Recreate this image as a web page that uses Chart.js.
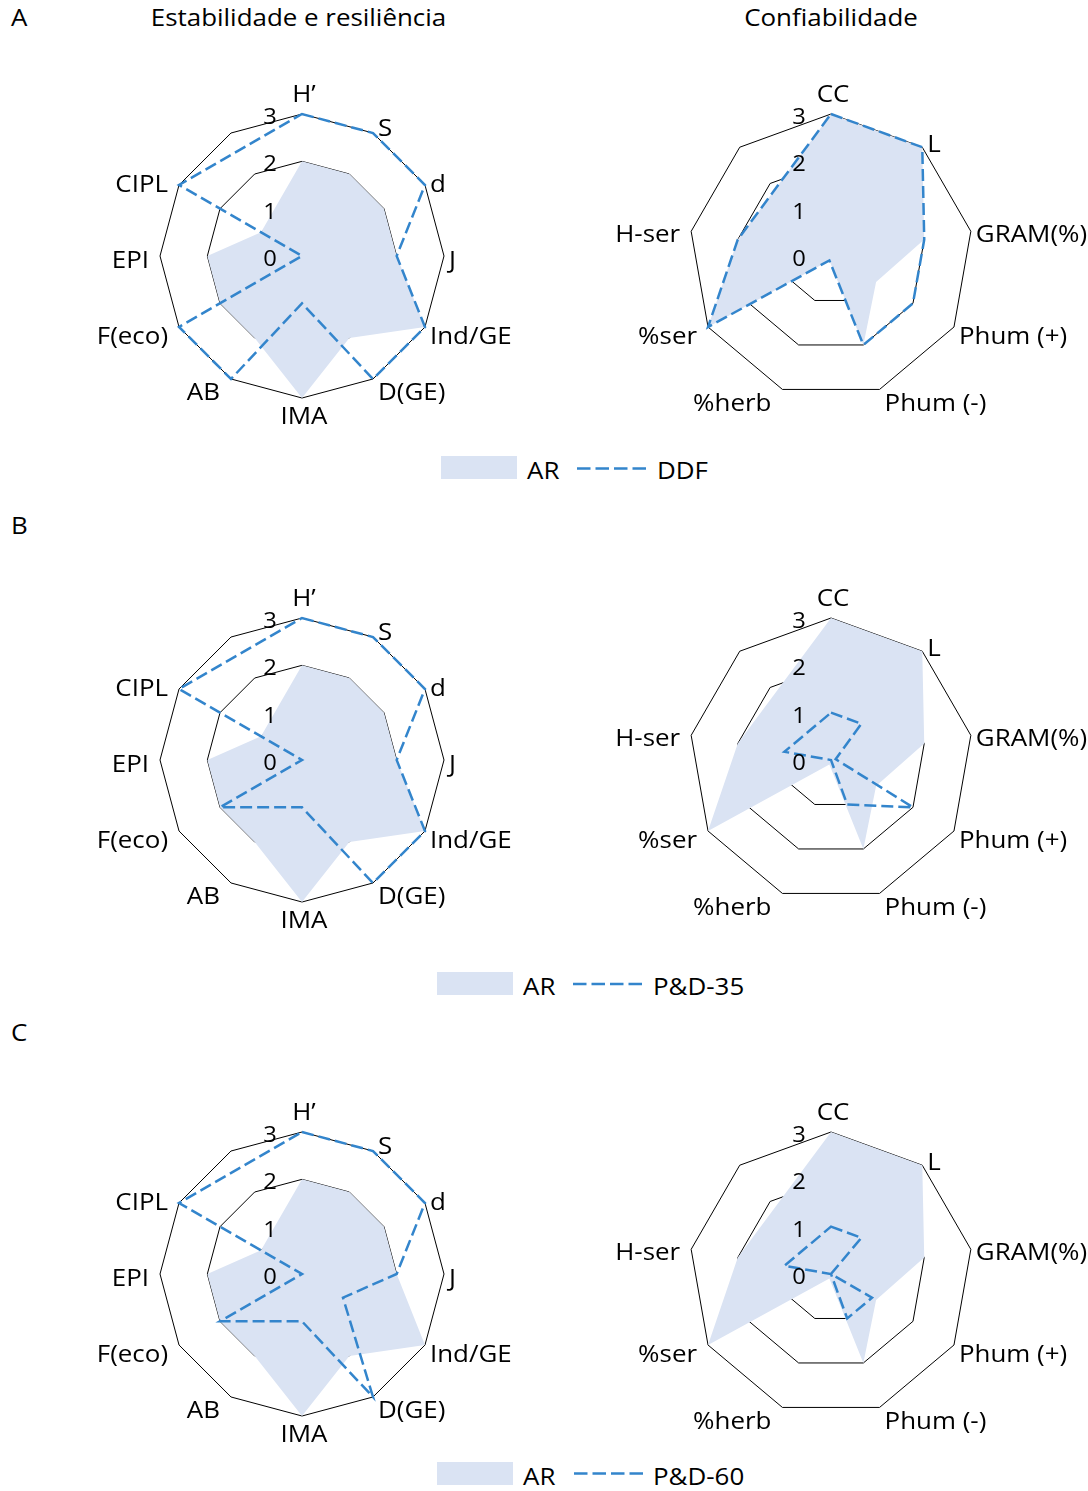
<!DOCTYPE html>
<html>
<head>
<meta charset="utf-8">
<script src="https://cdn.jsdelivr.net/npm/chart.js@4.4.1/dist/chart.umd.min.js"></script>
<style>
  body { margin: 0; width: 1088px; height: 1491px; overflow: hidden; background: #fff; position: relative; }
  canvas { position: absolute; }
  svg { position: absolute; left: 0; top: 0; }
  svg text { font-family: "Open Sans", Lato, sans-serif; font-size: 24px; fill: #000; }
</style>
</head>
<body>
<!-- titles and legends; text is stretched a little to match the wide Calibri-like face -->
<svg width="1088" height="1491">
  <text transform="translate(11 25.5) scale(1.08 1)">A</text>
  <text transform="translate(298.5 25.5) scale(1.08 1)" text-anchor="middle">Estabilidade e resiliência</text>
  <text transform="translate(831 25.5) scale(1.08 1)" text-anchor="middle">Confiabilidade</text>
  <text transform="translate(11 533.5) scale(1.08 1)">B</text>
  <text transform="translate(11 1040.5) scale(1.08 1)">C</text>

  <rect x="441" y="456" width="76" height="23" fill="#DAE3F3"/>
  <text transform="translate(527 479) scale(1.08 1)">AR</text>
  <line x1="577" y1="468.5" x2="648" y2="468.5" stroke="#3385CC" stroke-width="2.5" stroke-dasharray="13.5 5"/>
  <text transform="translate(657 479) scale(1.08 1)">DDF</text>

  <rect x="437" y="972" width="76" height="23" fill="#DAE3F3"/>
  <text transform="translate(523 995) scale(1.08 1)">AR</text>
  <line x1="573" y1="984" x2="644" y2="984" stroke="#3385CC" stroke-width="2.5" stroke-dasharray="13.5 5"/>
  <text transform="translate(653 995) scale(1.08 1)">P&amp;D-35</text>

  <rect x="437" y="1462" width="76" height="23" fill="#DAE3F3"/>
  <text transform="translate(523 1485) scale(1.08 1)">AR</text>
  <line x1="574" y1="1473.5" x2="645" y2="1473.5" stroke="#3385CC" stroke-width="2.5" stroke-dasharray="13.5 5"/>
  <text transform="translate(653 1485) scale(1.08 1)">P&amp;D-60</text>
</svg>

<canvas id="stabA" width="528" height="360" style="left:38px;top:76px"></canvas>
<canvas id="confA" width="528" height="360" style="left:567px;top:76px"></canvas>
<canvas id="stabB" width="528" height="360" style="left:38px;top:580px"></canvas>
<canvas id="confB" width="528" height="360" style="left:567px;top:580px"></canvas>
<canvas id="stabC" width="528" height="360" style="left:38px;top:1094px"></canvas>
<canvas id="confC" width="528" height="360" style="left:567px;top:1094px"></canvas>

<script>
// axes (the last, unnamed spoke carries no data)
const STAB_LABELS = ["H’", "S", "d", "J", "Ind/GE", "D(GE)", "IMA", "AB", "F(eco)", "EPI", "CIPL", ""];
const CONF_LABELS = ["CC", "L", "GRAM(%)", "Phum (+)", "Phum (-)", "%herb", "%ser", "H-ser", ""];
const TICK_VALUES = [0, 1, 2, 3];

// stability & resilience scores
const stabAR   = [2, 2, 2, 2, 3, 2, 3, 2, 2, 2, 1, null];
const stabDDF  = [3, 3, 3, 2, 3, 3, 1, 3, 3, 0, 3, null];
const stabPD35 = [3, 3, 3, 2, 3, 3, 1, null, 2, 0, 3, null];
const stabPD60 = [3, 3, 3, 2, 1, 3, 1, null, 2, 0, 3, null];

// reliability scores
const confAR   = [3, 3, 2, 1.1, 2, 0.1, 3, 2, null];
const confDDF  = [3, 3, 2, 2, 2, 0.1, 3, 2, null];
const confPD35 = [1, 1, 0.1, 2, 1, 0, 0, 1, null];
const confPD60 = [1, 1, 0, 1, 1, 0, 0, 1, null];

const AR_FILL = "#DAE3F3";
const LINE_BLUE = "#3385CC";
const LABEL_FONT = "24px 'Open Sans', Lato, sans-serif";
const TICK_FONT = "22px 'Open Sans', Lato, sans-serif";
const STRETCH = 1.08;

function stretchedText(ctx, text, x, y, align) {
  ctx.save();
  ctx.translate(x, y);
  ctx.scale(STRETCH, 1);
  ctx.textAlign = align;
  ctx.fillText(text, 0, 0);
  ctx.restore();
}

// Excel-like text: value labels left of the vertical spoke, names around the ring
const axisText = {
  id: "axisText",
  afterDatasetsDraw(chart) {
    const r = chart.scales.r;
    const ctx = chart.ctx;
    ctx.save();
    ctx.fillStyle = "#000";
    ctx.textBaseline = "alphabetic";

    ctx.font = TICK_FONT;
    TICK_VALUES.forEach((v) => {
      const y = r.yCenter - r.getDistanceFromCenterForValue(v);
      stretchedText(ctx, String(v), r.xCenter - 32, y + 10, "center");
    });

    ctx.font = LABEL_FONT;
    chart.data.labels.forEach((name, i) => {
      if (!name) return;
      const p = r.getPointPosition(i, r.drawingArea);
      const a = r.getIndexAngle(i);
      const sin = Math.sin(a), cos = Math.cos(a);
      if (Math.abs(sin) < 0.01) {
        stretchedText(ctx, name, p.x + 2, p.y + (cos > 0 ? -12 : 26), "center");
      } else {
        const right = sin > 0;
        stretchedText(ctx, name, p.x + (right ? 5 : -11), p.y + 12 - 10 * cos, right ? "left" : "right");
      }
    });
    ctx.restore();
  },
};

function makeRadar(id, labels, arData, otherData, otherName) {
  const ctx = document.getElementById(id).getContext("2d");
  return new Chart(ctx, {
    type: "radar",
    data: {
      labels,
      datasets: [
        {
          label: otherName,
          data: otherData,
          fill: false,
          borderColor: LINE_BLUE,
          borderWidth: 2.5,
          borderDash: [12, 5],
          borderJoinStyle: "miter",
          pointRadius: 0,
          spanGaps: true,
          order: 1,
        },
        {
          label: "AR",
          data: arData,
          fill: true,
          backgroundColor: AR_FILL,
          borderColor: "rgba(0,0,0,0)",
          borderWidth: 0,
          pointRadius: 0,
          spanGaps: true,
          order: 2,
        },
      ],
    },
    options: {
      responsive: false,
      animation: false,
      layout: { padding: { top: 38, bottom: 38, left: 122, right: 122 } },
      plugins: { legend: { display: false }, tooltip: { enabled: false } },
      scales: {
        r: {
          min: 0,
          max: 3,
          ticks: { stepSize: 1, display: false },
          angleLines: { display: false },
          grid: { color: "#000", lineWidth: 1 },
          pointLabels: { display: false },
        },
      },
    },
    plugins: [axisText],
  });
}

makeRadar("stabA", STAB_LABELS, stabAR, stabDDF, "DDF");
makeRadar("confA", CONF_LABELS, confAR, confDDF, "DDF");
makeRadar("stabB", STAB_LABELS, stabAR, stabPD35, "P&D-35");
makeRadar("confB", CONF_LABELS, confAR, confPD35, "P&D-35");
makeRadar("stabC", STAB_LABELS, stabAR, stabPD60, "P&D-60");
makeRadar("confC", CONF_LABELS, confAR, confPD60, "P&D-60");
</script>
</body>
</html>
